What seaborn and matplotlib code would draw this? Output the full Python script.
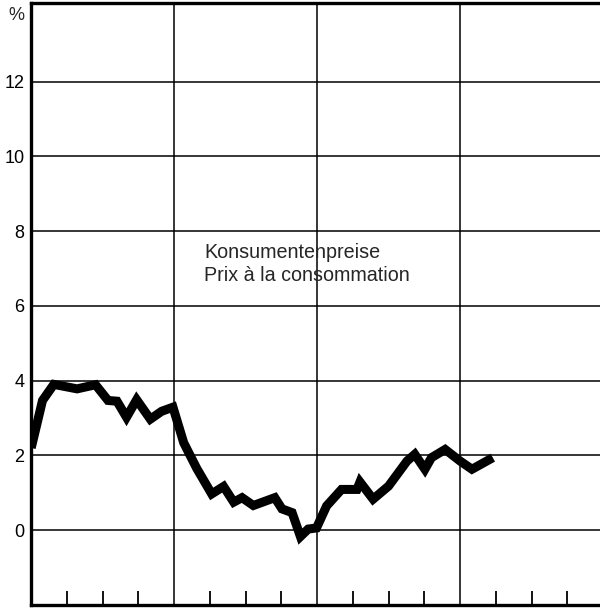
import matplotlib
matplotlib.use("Agg")
import matplotlib.pyplot as plt
import seaborn as sns
import pandas as pd

# months since the start of the first year
months = [0, 0.95, 1.9, 3.85, 5.4, 6.45, 7.2, 8.0, 8.85, 10.0,
          10.95, 11.9, 12.8, 13.9, 15.15, 16.15, 17.0, 17.7, 18.65, 20.45,
          21.05, 21.9, 22.6, 23.25, 23.95, 24.8, 26.05, 27.35, 27.6, 28.7,
          30.0, 31.55, 32.2, 33.05, 33.6, 34.75, 36.0, 37.0, 38.75]
# consumer prices, % change
cpi = [2.2, 3.47, 3.9, 3.78, 3.89, 3.47, 3.45, 3.02, 3.49, 2.97,
       3.18, 3.29, 2.34, 1.65, 0.97, 1.17, 0.75, 0.87, 0.66, 0.87,
       0.57, 0.47, -0.17, 0.03, 0.06, 0.65, 1.09, 1.09, 1.29, 0.83,
       1.18, 1.85, 2.03, 1.63, 1.94, 2.16, 1.85, 1.63, 1.94]

y_ticks = [0, 2, 4, 6, 8, 10, 12]
year_bounds = [12, 24, 36]
quarter_ticks = [m for m in range(3, 48, 3) if m % 12 != 0]
label_de = "Konsumentenpreise"
label_fr = "Prix à la consommation"

sns.set_style("white")
plt.rcParams["font.family"] = ["Liberation Sans", "DejaVu Sans"]

df = pd.DataFrame({"month": months, "cpi": cpi})

fig = plt.figure(figsize=(6.0, 6.08), dpi=100)
ax = fig.add_axes([0.052, 0.005, 0.953, 0.99])

# grid first so the curve sits on top
for y in y_ticks:
    ax.axhline(y, color="black", lw=1.1, zorder=1)
for x in year_bounds:
    ax.axvline(x, color="black", lw=1.1, zorder=1)

sns.lineplot(data=df, x="month", y="cpi", ax=ax, color="black", lw=6.5,
             sort=False, zorder=3)
for line in ax.lines[-1:]:
    line.set_solid_joinstyle("miter")
    line.set_solid_capstyle("butt")

ax.set_xlim(0, 48)
ax.set_ylim(-2, 14.1)
ax.set_xlabel("")
ax.set_ylabel("")

ax.set_xticks(year_bounds)
ax.set_xticklabels([])
ax.set_xticks(quarter_ticks, minor=True)
ax.tick_params(axis="x", which="major", length=0)
ax.tick_params(axis="x", which="minor", direction="in", length=10,
               width=1.3, color="black", bottom=True)

ax.set_yticks(y_ticks)
ax.set_yticklabels([str(v) for v in y_ticks])
ax.tick_params(axis="y", length=0, pad=5, labelsize=13, labelcolor="black")

for side in ["left", "bottom", "top"]:
    ax.spines[side].set_color("black")
    ax.spines[side].set_linewidth(2.4)
ax.spines["right"].set_visible(False)

ax.text(14.5, 7.28, label_de, fontsize=14.2, va="baseline", ha="left", zorder=4)
ax.text(14.5, 6.66, label_fr, fontsize=14.2, va="baseline", ha="left", zorder=4)
fig.text(0.014, 0.975, "%", fontsize=13, ha="left", va="center")

fig.savefig("out.png", dpi=100)
